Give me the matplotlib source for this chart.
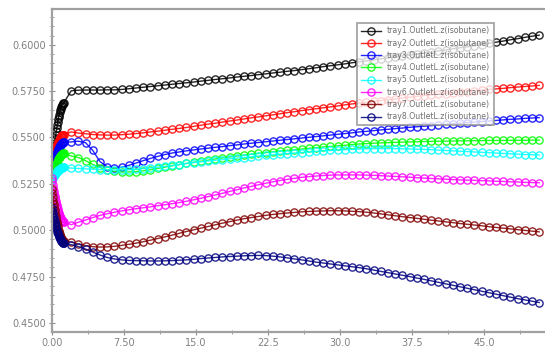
import matplotlib
matplotlib.use("Agg")
import matplotlib.pyplot as plt
from matplotlib.ticker import MultipleLocator, FixedLocator

time = [0.00, 0.05, 0.10, 0.15, 0.20, 0.25, 0.30, 0.35, 0.40, 0.45, 0.50, 0.55,
        0.60, 0.65, 0.70, 0.75, 0.80, 0.85, 0.90, 0.95, 1.00, 1.05, 1.10, 1.15, 1.20,
        2.0, 2.75, 3.5, 4.25, 5.0, 5.75, 6.5, 7.25, 8.0, 8.75,
        9.5, 10.25, 11.0, 11.75, 12.5, 13.25, 14.0, 14.75, 15.5, 16.25,
        17.0, 17.75, 18.5, 19.25, 20.0, 20.75, 21.5, 22.25, 23.0, 23.75,
        24.5, 25.25, 26.0, 26.75, 27.5, 28.25, 29.0, 29.75, 30.5, 31.25,
        32.0, 32.75, 33.5, 34.25, 35.0, 35.75, 36.5, 37.25, 38.0, 38.75,
        39.5, 40.25, 41.0, 41.75, 42.5, 43.25, 44.0, 44.75, 45.5, 46.25,
        47.0, 47.75, 48.5, 49.25, 50.0, 50.75]

tray1 = [0.5330, 0.5356, 0.5381, 0.5406, 0.5429, 0.5452, 0.5473, 0.5494, 0.5514, 0.5533,
         0.5550, 0.5567, 0.5583, 0.5598, 0.5612, 0.5624, 0.5636, 0.5646, 0.5656, 0.5664,
         0.5671, 0.5677, 0.5681, 0.5684, 0.5685,
         0.5752, 0.5755, 0.5756, 0.5756, 0.5756, 0.5757, 0.5757, 0.5759, 0.5763, 0.5767,
         0.5771, 0.5775, 0.5779, 0.5783, 0.5787, 0.5791, 0.5795, 0.5799, 0.5804, 0.5808,
         0.5813, 0.5817, 0.5821, 0.5826, 0.5830, 0.5834, 0.5839, 0.5843, 0.5848, 0.5852,
         0.5857, 0.5861, 0.5866, 0.5871, 0.5876, 0.5882, 0.5887, 0.5892, 0.5897, 0.5903,
         0.5908, 0.5913, 0.5918, 0.5924, 0.5929, 0.5934, 0.5940, 0.5945, 0.5950, 0.5956,
         0.5961, 0.5967, 0.5972, 0.5978, 0.5984, 0.5989, 0.5995, 0.6001, 0.6008, 0.6014,
         0.6020, 0.6027, 0.6033, 0.6040, 0.6046, 0.6052]

tray2 = [0.5360, 0.5371, 0.5383, 0.5393, 0.5403, 0.5413, 0.5423, 0.5432, 0.5440, 0.5449,
         0.5456, 0.5464, 0.5471, 0.5477, 0.5483, 0.5489, 0.5494, 0.5498, 0.5502, 0.5506,
         0.5509, 0.5511, 0.5513, 0.5515, 0.5515,
         0.5530, 0.5524, 0.5520, 0.5516, 0.5514, 0.5513, 0.5513, 0.5515, 0.5518, 0.5521,
         0.5525, 0.5530, 0.5534, 0.5539, 0.5544, 0.5549, 0.5554, 0.5560, 0.5566, 0.5572,
         0.5577, 0.5583, 0.5589, 0.5594, 0.5600, 0.5606, 0.5611, 0.5617, 0.5622, 0.5628,
         0.5634, 0.5639, 0.5645, 0.5650, 0.5655, 0.5660, 0.5665, 0.5670, 0.5676, 0.5681,
         0.5686, 0.5690, 0.5695, 0.5699, 0.5704, 0.5708, 0.5713, 0.5717, 0.5722, 0.5726,
         0.5730, 0.5734, 0.5737, 0.5741, 0.5745, 0.5748, 0.5752, 0.5755, 0.5759, 0.5762,
         0.5765, 0.5769, 0.5772, 0.5775, 0.5778, 0.5781]

tray3 = [0.5320, 0.5331, 0.5343, 0.5353, 0.5363, 0.5373, 0.5383, 0.5392, 0.5400, 0.5409,
         0.5416, 0.5424, 0.5431, 0.5437, 0.5443, 0.5449, 0.5454, 0.5458, 0.5462, 0.5466,
         0.5469, 0.5471, 0.5473, 0.5475, 0.5475,
         0.5476, 0.5480, 0.5472, 0.5430, 0.5370, 0.5342, 0.5336, 0.5340, 0.5350, 0.5362,
         0.5375, 0.5387, 0.5398, 0.5408, 0.5416, 0.5422, 0.5428, 0.5433, 0.5438, 0.5442,
         0.5447, 0.5451, 0.5456, 0.5460, 0.5465, 0.5469, 0.5473, 0.5477, 0.5481, 0.5485,
         0.5489, 0.5493, 0.5497, 0.5501, 0.5505, 0.5509, 0.5513, 0.5517, 0.5521, 0.5525,
         0.5530, 0.5533, 0.5537, 0.5541, 0.5544, 0.5548, 0.5551, 0.5555, 0.5558, 0.5561,
         0.5564, 0.5568, 0.5571, 0.5574, 0.5577, 0.5580, 0.5583, 0.5586, 0.5589, 0.5592,
         0.5595, 0.5598, 0.5600, 0.5603, 0.5605, 0.5607]

tray4 = [0.5280, 0.5290, 0.5300, 0.5309, 0.5318, 0.5326, 0.5335, 0.5342, 0.5350, 0.5357,
         0.5364, 0.5370, 0.5376, 0.5382, 0.5387, 0.5392, 0.5396, 0.5400, 0.5404, 0.5407,
         0.5410, 0.5412, 0.5413, 0.5415, 0.5415,
         0.5400, 0.5392, 0.5375, 0.5355, 0.5338, 0.5325, 0.5317, 0.5314, 0.5314, 0.5316,
         0.5320, 0.5326, 0.5333, 0.5340, 0.5347, 0.5354, 0.5360, 0.5366, 0.5372, 0.5378,
         0.5384, 0.5390, 0.5395, 0.5400, 0.5405, 0.5410, 0.5414, 0.5418, 0.5423, 0.5427,
         0.5431, 0.5434, 0.5438, 0.5442, 0.5445, 0.5449, 0.5452, 0.5455, 0.5458, 0.5462,
         0.5465, 0.5467, 0.5469, 0.5471, 0.5472, 0.5474, 0.5475, 0.5476, 0.5477, 0.5478,
         0.5479, 0.5480, 0.5480, 0.5481, 0.5482, 0.5482, 0.5483, 0.5483, 0.5484, 0.5484,
         0.5484, 0.5485, 0.5485, 0.5485, 0.5486, 0.5486]

tray5 = [0.5270, 0.5275, 0.5280, 0.5285, 0.5290, 0.5294, 0.5298, 0.5302, 0.5306, 0.5310,
         0.5314, 0.5317, 0.5320, 0.5323, 0.5326, 0.5328, 0.5330, 0.5332, 0.5334, 0.5336,
         0.5337, 0.5338, 0.5339, 0.5340, 0.5340,
         0.5335, 0.5333, 0.5331, 0.5329, 0.5327, 0.5326, 0.5325, 0.5325, 0.5326, 0.5329,
         0.5332, 0.5336, 0.5340, 0.5344, 0.5349, 0.5354, 0.5360, 0.5365, 0.5369, 0.5373,
         0.5377, 0.5381, 0.5385, 0.5389, 0.5392, 0.5396, 0.5400, 0.5403, 0.5407, 0.5410,
         0.5413, 0.5416, 0.5419, 0.5422, 0.5425, 0.5428, 0.5430, 0.5432, 0.5434, 0.5436,
         0.5438, 0.5439, 0.5440, 0.5440, 0.5440, 0.5440, 0.5439, 0.5438, 0.5437, 0.5436,
         0.5434, 0.5432, 0.5430, 0.5428, 0.5426, 0.5424, 0.5422, 0.5420, 0.5418, 0.5416,
         0.5414, 0.5412, 0.5410, 0.5408, 0.5407, 0.5406]

tray6 = [0.5280, 0.5263, 0.5246, 0.5230, 0.5214, 0.5199, 0.5185, 0.5171, 0.5158, 0.5146,
         0.5134, 0.5123, 0.5113, 0.5103, 0.5094, 0.5085, 0.5078, 0.5071, 0.5064, 0.5059,
         0.5054, 0.5051, 0.5048, 0.5046, 0.5045,
         0.5030, 0.5043, 0.5055, 0.5068, 0.5080, 0.5089, 0.5097, 0.5104, 0.5110, 0.5116,
         0.5121, 0.5126, 0.5132, 0.5137, 0.5143, 0.5149, 0.5156, 0.5164, 0.5172, 0.5181,
         0.5190, 0.5199, 0.5209, 0.5218, 0.5228, 0.5236, 0.5245, 0.5253, 0.5261, 0.5268,
         0.5274, 0.5280, 0.5285, 0.5289, 0.5292, 0.5295, 0.5297, 0.5298, 0.5298, 0.5298,
         0.5298, 0.5297, 0.5296, 0.5294, 0.5292, 0.5290, 0.5288, 0.5286, 0.5283, 0.5281,
         0.5279, 0.5277, 0.5275, 0.5273, 0.5271, 0.5270, 0.5269, 0.5267, 0.5266, 0.5264,
         0.5263, 0.5261, 0.5260, 0.5258, 0.5257, 0.5256]

tray7 = [0.5220, 0.5199, 0.5179, 0.5160, 0.5142, 0.5124, 0.5107, 0.5091, 0.5075, 0.5060,
         0.5046, 0.5033, 0.5020, 0.5009, 0.4998, 0.4988, 0.4979, 0.4971, 0.4963, 0.4957,
         0.4951, 0.4947, 0.4943, 0.4941, 0.4940,
         0.4936, 0.4925, 0.4917, 0.4911, 0.4909, 0.4910, 0.4913, 0.4918, 0.4924, 0.4930,
         0.4938, 0.4946, 0.4955, 0.4964, 0.4973, 0.4983, 0.4993, 0.5002, 0.5011, 0.5020,
         0.5029, 0.5038, 0.5046, 0.5054, 0.5062, 0.5068, 0.5074, 0.5080, 0.5085, 0.5089,
         0.5093, 0.5096, 0.5099, 0.5101, 0.5103, 0.5104, 0.5105, 0.5105, 0.5104, 0.5102,
         0.5100, 0.5097, 0.5093, 0.5088, 0.5083, 0.5078, 0.5073, 0.5068, 0.5064, 0.5059,
         0.5054, 0.5050, 0.5045, 0.5041, 0.5036, 0.5032, 0.5028, 0.5024, 0.5019, 0.5015,
         0.5011, 0.5007, 0.5003, 0.4999, 0.4995, 0.4991]

tray8 = [0.5120, 0.5106, 0.5092, 0.5079, 0.5067, 0.5055, 0.5043, 0.5032, 0.5022, 0.5012,
         0.5002, 0.4993, 0.4985, 0.4977, 0.4969, 0.4963, 0.4956, 0.4951, 0.4946, 0.4941,
         0.4938, 0.4935, 0.4932, 0.4931, 0.4930,
         0.4922, 0.4912, 0.4898, 0.4882, 0.4866, 0.4853, 0.4845, 0.4840, 0.4837, 0.4836,
         0.4835, 0.4834, 0.4834, 0.4835, 0.4836, 0.4838, 0.4840, 0.4843, 0.4847, 0.4850,
         0.4853, 0.4856, 0.4858, 0.4860, 0.4862, 0.4863, 0.4864, 0.4863, 0.4860, 0.4856,
         0.4851, 0.4845, 0.4840, 0.4834, 0.4828, 0.4823, 0.4818, 0.4813, 0.4808, 0.4803,
         0.4798, 0.4792, 0.4785, 0.4778, 0.4771, 0.4764, 0.4757, 0.4750, 0.4742, 0.4735,
         0.4727, 0.4719, 0.4711, 0.4703, 0.4695, 0.4687, 0.4679, 0.4671, 0.4663, 0.4655,
         0.4647, 0.4639, 0.4631, 0.4624, 0.4617, 0.4610]

series = [tray1, tray2, tray3, tray4, tray5, tray6, tray7, tray8]
labels = ["tray1.OutletL.z(isobutane)", "tray2.OutletL.z(isobutane)",
          "tray3.OutletL.z(isobutane)", "tray4.OutletL.z(isobutane)",
          "tray5.OutletL.z(isobutane)", "tray6.OutletL.z(isobutane)",
          "tray7.OutletL.z(isobutane)", "tray8.OutletL.z(isobutane)"]
colors = ["#000000", "#ff0000", "#0000ff", "#00ff00", "#00ffff", "#ff00ff", "#800000", "#000080"]

xticks = [0.0, 7.5, 15.0, 22.5, 30.0, 37.5, 45.0]
xticklabels = ["0.00", "7.50", "15.0", "22.5", "30.0", "37.5", "45.0"]
yticks = [0.45, 0.475, 0.5, 0.525, 0.55, 0.575, 0.6]
yticklabels = ["0.4500", "0.4750", "0.5000", "0.5250", "0.5500", "0.5750", "0.6000"]

fig = plt.figure(figsize=(5.45, 3.49), dpi=100)
ax = fig.add_axes([52/545, 17/349, (553-52)/545, 323/349])

for vals, lab, col in zip(series, labels, colors):
    ax.plot(time, vals, color=col, lw=1.0, marker="o", markersize=5.2,
            markerfacecolor="none", markeredgecolor=col, markeredgewidth=1.0,
            label=lab, alpha=0.85, clip_on=True)

ax.set_xlim(0, 52.19)
ax.set_ylim(0.4451, 0.6193)

ax.xaxis.set_major_locator(FixedLocator(xticks))
ax.set_xticklabels(xticklabels)
ax.xaxis.set_minor_locator(MultipleLocator(3.75))
ax.yaxis.set_major_locator(FixedLocator(yticks))
ax.set_yticklabels(yticklabels)
ax.yaxis.set_minor_locator(MultipleLocator(0.005))

grey = "#8c8c8c"
for side in ["left", "bottom", "top"]:
    ax.spines[side].set_color("#a0a0a0")
    ax.spines[side].set_linewidth(1.6)
ax.spines["right"].set_visible(False)

ax.tick_params(axis="both", which="major", direction="inout", length=5, width=0.8,
               color=grey, labelcolor="#808080", labelsize=7, pad=2)
ax.tick_params(axis="both", which="minor", direction="inout", length=2.5, width=0.6,
               color=grey)
ax.tick_params(axis="x", which="both", top=False)

leg = ax.legend(loc="upper left", bbox_to_anchor=(0.609, 0.957), fontsize=5.6,
                frameon=True, fancybox=False, handlelength=2.6, handletextpad=0.8,
                borderpad=0.45, labelspacing=0.42, borderaxespad=0)
leg.get_frame().set_edgecolor("#909090")
leg.get_frame().set_linewidth(1.3)
for t in leg.get_texts():
    t.set_color("#707070")

fig.savefig("out.png", dpi=100)
